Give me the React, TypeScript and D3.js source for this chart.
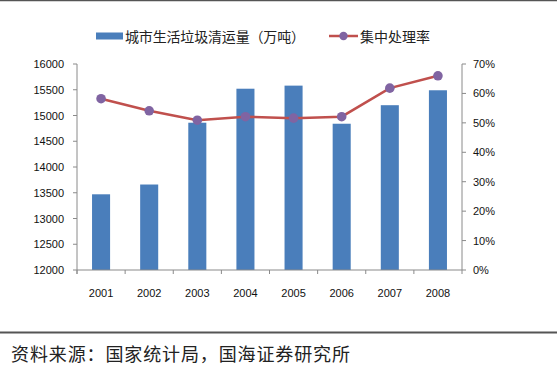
import React from "react";
import * as d3 from "d3";

const years = ["2001", "2002", "2003", "2004", "2005", "2006", "2007", "2008"];
const volume = [13470, 13660, 14860, 15520, 15580, 14840, 15200, 15490];
const rate = [0.582, 0.541, 0.509, 0.521, 0.516, 0.521, 0.618, 0.66];
const leftTicks = [12000, 12500, 13000, 13500, 14000, 14500, 15000, 15500, 16000];
const rightTicks = [0, 0.1, 0.2, 0.3, 0.4, 0.5, 0.6, 0.7];
const barLabel = "城市生活垃圾清运量（万吨）";
const lineLabel = "集中处理率";
const sourceText = "资料来源：国家统计局，国海证券研究所";

const W = 557;
const H = 377;
const left = 77;
const right = 462;
const top = 64;
const bottom = 270;

export default function App() {
  const x = d3.scaleBand<string>().domain(years).range([left, right]).paddingInner(0).paddingOuter(0);
  const yL = d3.scaleLinear().domain([12000, 16000]).range([bottom, top]);
  const yR = d3.scaleLinear().domain([0, 0.7]).range([bottom, top]);
  const bw = x.bandwidth() * 0.375;
  const line = d3
    .line<number>()
    .x((_, i) => (x(years[i]) as number) + x.bandwidth() / 2)
    .y((d) => yR(d));
  const axisColor = "#8a8a8a";
  const font = "'Liberation Sans', Arial, sans-serif";
  const cjk = "'Noto Sans CJK SC', sans-serif";
  return (
    <svg width={W} height={H} style={{ position: "absolute", left: 0, top: 0, background: "#fff" }}>
      <rect x={0} y={0} width={W} height={H} fill="#fff" />
      <line x1={0} x2={W} y1={0.5} y2={0.5} stroke="#555" strokeWidth={1.5} />
      {/* legend */}
      <rect x={96} y={32.5} width={27} height={7} fill="#4a7ebb" />
      <text x={125} y={36} dominantBaseline="central" fontFamily={cjk} fontSize={14} fill="#222" textLength={180} lengthAdjust="spacing">
        {barLabel}
      </text>
      <line x1={329} x2={358} y1={36} y2={36} stroke="#c0504d" strokeWidth={2.5} />
      <circle cx={343.5} cy={36} r={4.2} fill="#8064a2" />
      <text x={360} y={36} dominantBaseline="central" fontFamily={cjk} fontSize={14} fill="#222">
        {lineLabel}
      </text>
      {/* bars */}
      {years.map((yr, i) => (
        <rect
          key={yr}
          x={(x(yr) as number) + (x.bandwidth() - bw) / 2}
          y={yL(volume[i])}
          width={bw}
          height={bottom - yL(volume[i])}
          fill="#4a7ebb"
        />
      ))}
      {/* left axis */}
      <line x1={left} x2={left} y1={top} y2={bottom + 4} stroke={axisColor} />
      {leftTicks.map((t) => (
        <g key={t}>
          <line x1={left - 4} x2={left} y1={yL(t)} y2={yL(t)} stroke={axisColor} />
          <text x={left - 13} y={yL(t)} textAnchor="end" dominantBaseline="central" fontFamily={font} fontSize={11} fill="#111">
            {t}
          </text>
        </g>
      ))}
      {/* right axis */}
      <line x1={right} x2={right} y1={top} y2={bottom + 4} stroke={axisColor} />
      {rightTicks.map((t) => (
        <g key={t}>
          <line x1={right} x2={right + 4} y1={yR(t)} y2={yR(t)} stroke={axisColor} />
          <text x={right + 11} y={yR(t)} textAnchor="start" dominantBaseline="central" fontFamily={font} fontSize={11} fill="#111">
            {Math.round(t * 100) + "%"}
          </text>
        </g>
      ))}
      {/* x axis */}
      <line x1={left} x2={right} y1={bottom} y2={bottom} stroke={axisColor} />
      {years.map((yr) => (
        <line key={"t" + yr} x1={x(yr) as number} x2={x(yr) as number} y1={bottom} y2={bottom + 4} stroke={axisColor} />
      ))}
      {years.map((yr) => (
        <text
          key={"l" + yr}
          x={(x(yr) as number) + x.bandwidth() / 2}
          y={293}
          textAnchor="middle"
          dominantBaseline="central"
          fontFamily={font}
          fontSize={11}
          fill="#111"
        >
          {yr}
        </text>
      ))}
      {/* line series */}
      <path d={line(rate) as string} fill="none" stroke="#c0504d" strokeWidth={2.5} />
      {rate.map((r, i) => (
        <circle key={"c" + i} cx={(x(years[i]) as number) + x.bandwidth() / 2} cy={yR(r)} r={4.8} fill="#8064a2" />
      ))}
      {/* footer */}
      <line x1={0} x2={W} y1={332.5} y2={332.5} stroke="#555" strokeWidth={2} />
      <text x={11} y={353} dominantBaseline="central" fontFamily={cjk} fontSize={18} fill="#222" textLength={339} lengthAdjust="spacing">
        {sourceText}
      </text>
    </svg>
  );
}
